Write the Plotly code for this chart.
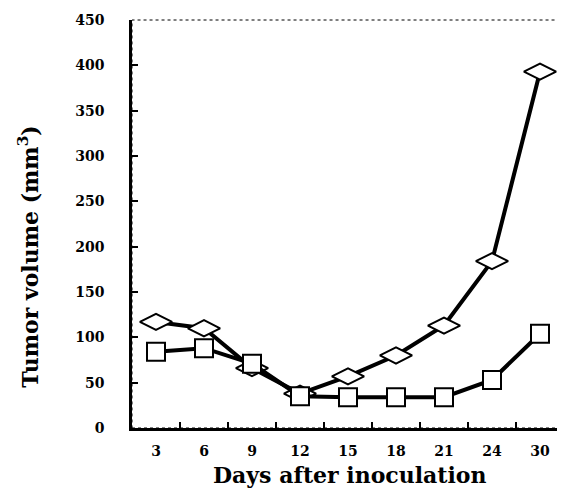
import plotly.graph_objects as go

days = ["3", "6", "9", "12", "15", "18", "21", "24", "30"]
diamond_vals = [117, 110, 66, 38, 57, 80, 113, 184, 393]
square_vals = [84, 88, 71, 35, 34, 34, 34, 53, 104]
y_ticks = [0, 50, 100, 150, 200, 250, 300, 350, 400, 450]

fig = go.Figure()
fig.add_trace(go.Scatter(
    x=days, y=diamond_vals, mode="lines+markers",
    line=dict(color="black", width=4),
    marker=dict(symbol="diamond-wide", size=23, color="white",
                line=dict(color="black", width=2)),
    showlegend=False))
fig.add_trace(go.Scatter(
    x=days, y=square_vals, mode="lines+markers",
    line=dict(color="black", width=4),
    marker=dict(symbol="square", size=18, color="white",
                line=dict(color="black", width=2)),
    showlegend=False))

font_fam = "DejaVu Serif"
# page body has an 8px margin; figure is sized/offset to compensate
fig.update_layout(
    width=557, height=482,
    margin=dict(l=124, r=1, t=12, b=62, autoexpand=False),
    paper_bgcolor="white", plot_bgcolor="white",
    xaxis=dict(
        type="category", range=[-0.5, 8.5], tickson="boundaries",
        ticks="inside", ticklen=6, automargin=False,
        tickwidth=1.5, tickcolor="black", showline=True, linecolor="black",
        linewidth=2.5, showgrid=False, zeroline=False, ticklabelstandoff=8,
        tickfont=dict(family=font_fam, size=14, color="black", weight="bold"),
    ),
    yaxis=dict(
        range=[0, 450], tickvals=y_ticks, ticks="inside", ticklen=6,
        automargin=False,
        tickwidth=1.5, tickcolor="black", showline=True, linecolor="black",
        linewidth=2.5, showgrid=False, zeroline=False, ticklabelstandoff=22,
        tickfont=dict(family=font_fam, size=14, color="black", weight="bold"),
    ),
)
fig.add_annotation(text="Days after inoculation", xref="paper", yref="paper",
                   x=0.505, y=0, yshift=-47, xanchor="center", yanchor="middle",
                   showarrow=False,
                   font=dict(family=font_fam, size=22, color="black", weight="bold"))
fig.add_annotation(text="Tumor volume (mm<sup>3</sup>)", xref="paper", yref="paper",
                   x=0, xshift=-104, y=0.42, xanchor="center", yanchor="middle",
                   textangle=-90, showarrow=False,
                   font=dict(family=font_fam, size=22, color="black", weight="bold"))
fig.add_shape(type="rect", xref="paper", yref="paper", x0=0, y0=0, x1=0.996, y1=1,
              line=dict(color="black", width=1, dash="dot"), layer="above")

fig.write_html("out.html")
